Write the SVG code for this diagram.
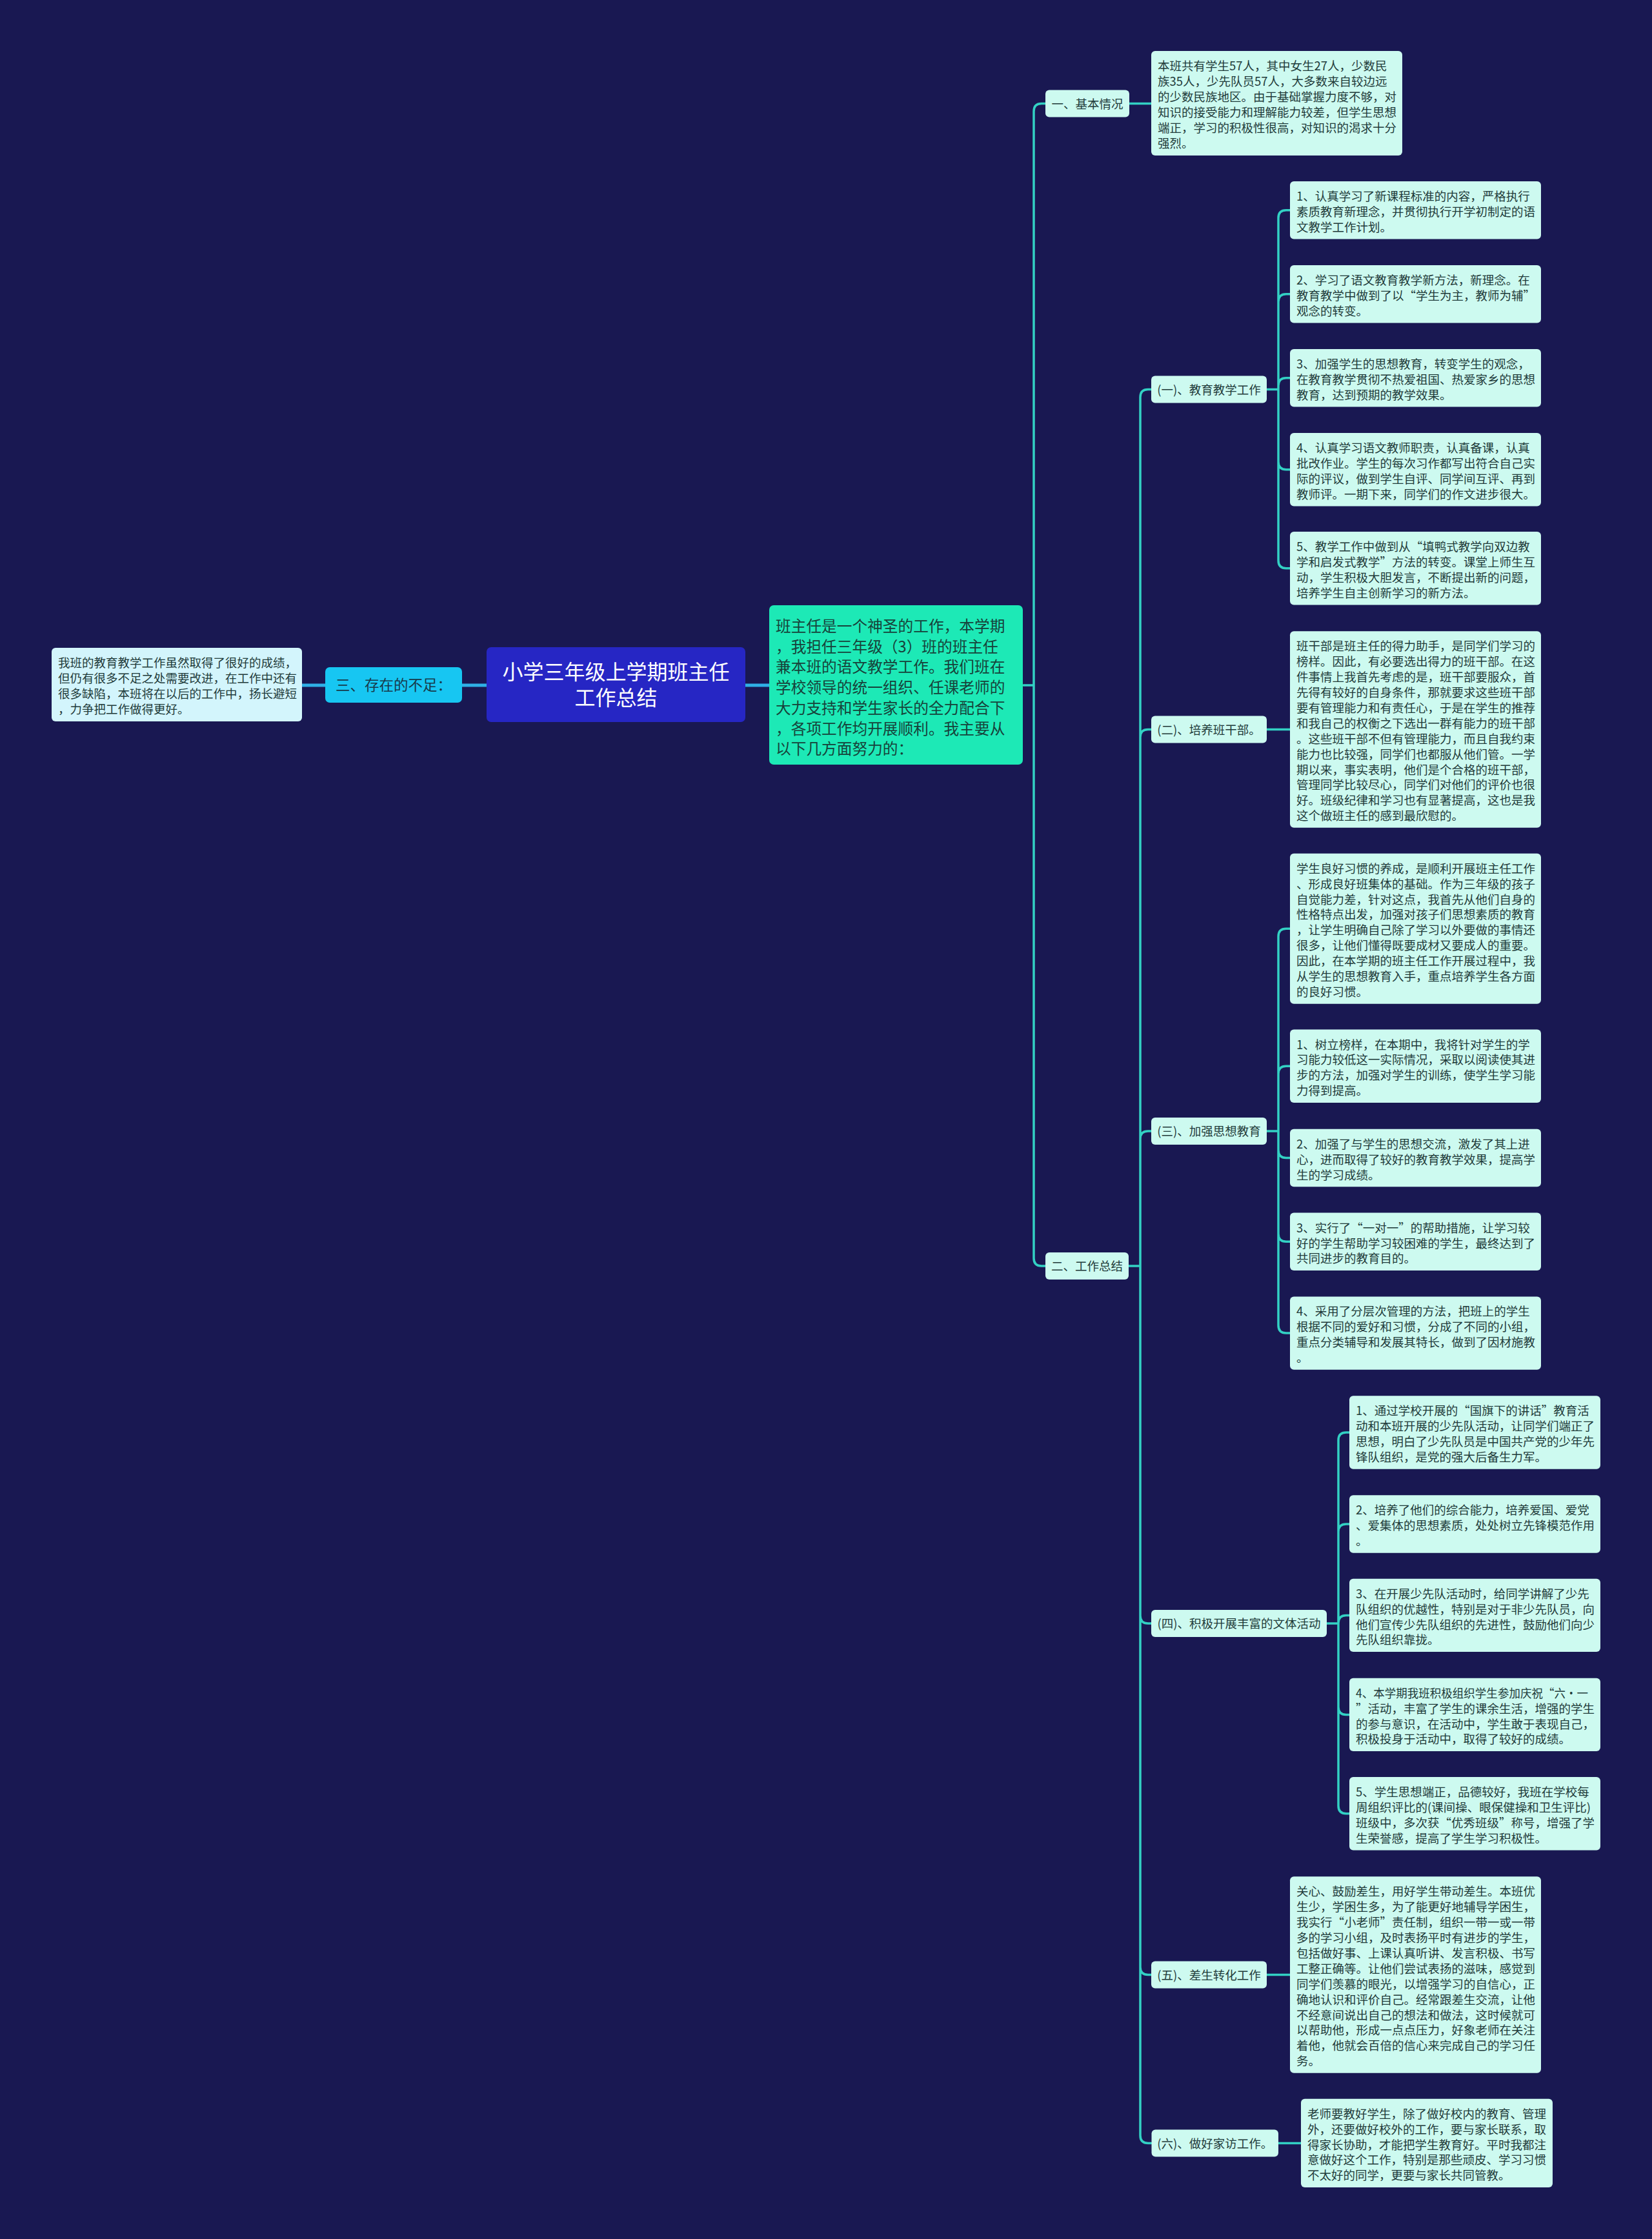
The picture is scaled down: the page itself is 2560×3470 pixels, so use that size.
<svg xmlns="http://www.w3.org/2000/svg" width="2560" height="3470" viewBox="0 0 2560 3470">
<defs>
<style>
.bg{fill:#191852}
.box{fill:#cdfaf0}
.lbox{fill:#d3f5fc}
.t{font-family:"Noto Sans CJK SC","Noto Sans",sans-serif;font-size:18.5px;fill:#1f3b3a}
.lt{font-family:"Noto Sans CJK SC","Noto Sans",sans-serif;font-size:18.5px;fill:#1f3b3a;text-anchor:middle}
.ct{font-family:"Noto Sans CJK SC","Noto Sans",sans-serif;font-size:23.7px;fill:#17423a}
.rt{font-family:"Noto Sans CJK SC","Noto Sans",sans-serif;font-size:32px;fill:#ffffff;text-anchor:middle}
.st{font-family:"Noto Sans CJK SC","Noto Sans",sans-serif;font-size:22.5px;fill:#173a4a;text-anchor:middle}
.ln{fill:none;stroke:#33d1c4;stroke-width:3.5;stroke-linecap:round;stroke-linejoin:round}
.lnl{fill:none;stroke:#2fb0e6;stroke-width:5}
</style>
</defs>
<rect class="bg" x="0" y="0" width="2560" height="3470"/>

<g id="connectors">
<path class="lnl" d="M468,1062 H504 M716,1062 H754 M1155,1062 H1192"/>
<path class="ln" d="M1586,1062 H1602 M1602,1062 V172.5 Q1602,160.5 1614,160.5 H1620 M1602,1062 V1950 Q1602,1962 1614,1962 H1620"/>
<path class="ln" d="M1750,160.5 H1784"/>
<path class="ln" d="M1749,1962 H1767 M1767,1962 V615.5 Q1767,603.5 1779,603.5 H1784 M1767,1962 V1142.5 Q1767,1130.5 1779,1130.5 H1784 M1767,1962 V1765 Q1767,1753 1779,1753 H1784 M1767,1962 V2504 Q1767,2516 1779,2516 H1784 M1767,1962 V3048.5 Q1767,3060.5 1779,3060.5 H1784 M1767,1962 V3309.5 Q1767,3321.5 1779,3321.5 H1784"/>
<path class="ln" d="M1963,603.5 H1981 M1981,603.5 V337.8 Q1981,325.8 1993,325.8 H1999 M1981,603.5 V467.8 Q1981,455.8 1993,455.8 H1999 M1981,603.5 V597.8 Q1981,585.8 1993,585.8 H1999 M1981,603.5 V715.7 Q1981,727.7 1993,727.7 H1999 M1981,603.5 V868.7 Q1981,880.7 1993,880.7 H1999"/>
<path class="ln" d="M1963,1130.5 H1999"/>
<path class="ln" d="M1963,1753 H1981 M1981,1753 V1451.2 Q1981,1439.2 1993,1439.2 H1999 M1981,1753 V1664.2 Q1981,1652.2 1993,1652.2 H1999 M1981,1753 V1782.5 Q1981,1794.5 1993,1794.5 H1999 M1981,1753 V1912.3 Q1981,1924.3 1993,1924.3 H1999 M1981,1753 V2054.1 Q1981,2066.1 1993,2066.1 H1999"/>
<path class="ln" d="M2056,2516 H2074 M2074,2516 V2232 Q2074,2220 2086,2220 H2091 M2074,2516 V2374 Q2074,2362 2086,2362 H2091 M2074,2516 V2515.4 Q2074,2503.4 2086,2503.4 H2091 M2074,2516 V2645.4 Q2074,2657.4 2086,2657.4 H2091 M2074,2516 V2798.7 Q2074,2810.7 2086,2810.7 H2091"/>
<path class="ln" d="M1963,3060.5 H1999"/>
<path class="ln" d="M1981,3321.5 H2016"/>
</g>

<g id="left-text">
<rect class="lbox" x="80" y="1004" width="388" height="114" rx="6"/>
<text class="t" x="90" y="1034"><tspan x="90" dy="0">我班的教育教学工作虽然取得了很好的成绩，</tspan><tspan x="90" dy="23.9">但仍有很多不足之处需要改进，在工作中还有</tspan><tspan x="90" dy="23.9">很多缺陷，本班将在以后的工作中，扬长避短</tspan><tspan x="90" dy="23.9">，力争把工作做得更好。</tspan></text>
</g>

<g id="node-shortcoming">
<rect x="504" y="1034" width="212" height="55" rx="7" fill="#17c6f2"/>
<text class="st" x="610" y="1070">三、存在的不足：</text>
</g>

<g id="root">
<rect x="754" y="1003" width="401" height="116" rx="7" fill="#2626c4"/>
<text class="rt" x="954.5" y="1053">小学三年级上学期班主任</text>
<text class="rt" x="954.5" y="1093">工作总结</text>
</g>

<g id="node-intro">
<rect x="1192" y="938" width="393" height="247" rx="7" fill="#1de9b6"/>
<text class="ct" x="1202" y="979"><tspan x="1202" dy="0">班主任是一个神圣的工作，本学期</tspan><tspan x="1202" dy="31.7">，我担任三年级（3）班的班主任</tspan><tspan x="1202" dy="31.7">兼本班的语文教学工作。我们班在</tspan><tspan x="1202" dy="31.7">学校领导的统一组织、任课老师的</tspan><tspan x="1202" dy="31.7">大力支持和学生家长的全力配合下</tspan><tspan x="1202" dy="31.7">，各项工作均开展顺利。我主要从</tspan><tspan x="1202" dy="31.7">以下几方面努力的：</tspan></text>
</g>

<g id="node-basic">
<rect class="box" x="1620" y="139.5" width="130" height="42" rx="6"/>
<text class="lt" x="1685" y="167.5">一、基本情况</text>
</g>
<g id="node-basic-text">
<rect class="box" x="1784" y="79" width="389" height="162" rx="6"/>
<text class="t" x="1794" y="109"><tspan x="1794" dy="0">本班共有学生57人，其中女生27人，少数民</tspan><tspan x="1794" dy="23.9">族35人，少先队员57人，大多数来自较边远</tspan><tspan x="1794" dy="23.9">的少数民族地区。由于基础掌握力度不够，对</tspan><tspan x="1794" dy="23.9">知识的接受能力和理解能力较差，但学生思想</tspan><tspan x="1794" dy="23.9">端正，学习的积极性很高，对知识的渴求十分</tspan><tspan x="1794" dy="23.9">强烈。</tspan></text>
</g>

<g id="node-summary">
<rect class="box" x="1620" y="1941" width="129" height="42" rx="6"/>
<text class="lt" x="1684.5" y="1969">二、工作总结</text>
</g>

<g id="node-s1">
<rect class="box" x="1784" y="582.5" width="179" height="42" rx="6"/>
<text class="lt" x="1873.5" y="610.5">(一)、教育教学工作</text>
</g>
<g id="node-s1-1">
<rect class="box" x="1999" y="281" width="389" height="89.5" rx="6"/>
<text class="t" x="2009" y="311"><tspan x="2009" dy="0">1、认真学习了新课程标准的内容，严格执行</tspan><tspan x="2009" dy="23.9">素质教育新理念，并贯彻执行开学初制定的语</tspan><tspan x="2009" dy="23.9">文教学工作计划。</tspan></text>
</g>
<g id="node-s1-2">
<rect class="box" x="1999" y="411" width="389" height="89.5" rx="6"/>
<text class="t" x="2009" y="441"><tspan x="2009" dy="0">2、学习了语文教育教学新方法，新理念。在</tspan><tspan x="2009" dy="23.9">教育教学中做到了以“学生为主，教师为辅”</tspan><tspan x="2009" dy="23.9">观念的转变。</tspan></text>
</g>
<g id="node-s1-3">
<rect class="box" x="1999" y="541" width="389" height="89.5" rx="6"/>
<text class="t" x="2009" y="571"><tspan x="2009" dy="0">3、加强学生的思想教育，转变学生的观念，</tspan><tspan x="2009" dy="23.9">在教育教学贯彻不热爱祖国、热爱家乡的思想</tspan><tspan x="2009" dy="23.9">教育，达到预期的教学效果。</tspan></text>
</g>
<g id="node-s1-4">
<rect class="box" x="1999" y="671" width="389" height="113.4" rx="6"/>
<text class="t" x="2009" y="701"><tspan x="2009" dy="0">4、认真学习语文教师职责，认真备课，认真</tspan><tspan x="2009" dy="23.9">批改作业。学生的每次习作都写出符合自己实</tspan><tspan x="2009" dy="23.9">际的评议，做到学生自评、同学间互评、再到</tspan><tspan x="2009" dy="23.9">教师评。一期下来，同学们的作文进步很大。</tspan></text>
</g>
<g id="node-s1-5">
<rect class="box" x="1999" y="824" width="389" height="113.4" rx="6"/>
<text class="t" x="2009" y="854"><tspan x="2009" dy="0">5、教学工作中做到从“填鸭式教学向双边教</tspan><tspan x="2009" dy="23.9">学和启发式教学”方法的转变。课堂上师生互</tspan><tspan x="2009" dy="23.9">动，学生积极大胆发言，不断提出新的问题，</tspan><tspan x="2009" dy="23.9">培养学生自主创新学习的新方法。</tspan></text>
</g>

<g id="node-s2">
<rect class="box" x="1784" y="1109.5" width="179" height="42" rx="6"/>
<text class="lt" x="1873.5" y="1137.5">(二)、培养班干部。</text>
</g>
<g id="node-s2-1">
<rect class="box" x="1999" y="978.3" width="389" height="304.4" rx="6"/>
<text class="t" x="2009" y="1008.3"><tspan x="2009" dy="0">班干部是班主任的得力助手，是同学们学习的</tspan><tspan x="2009" dy="23.9">榜样。因此，有必要选出得力的班干部。在这</tspan><tspan x="2009" dy="23.9">件事情上我首先考虑的是，班干部要服众，首</tspan><tspan x="2009" dy="23.9">先得有较好的自身条件，那就要求这些班干部</tspan><tspan x="2009" dy="23.9">要有管理能力和有责任心，于是在学生的推荐</tspan><tspan x="2009" dy="23.9">和我自己的权衡之下选出一群有能力的班干部</tspan><tspan x="2009" dy="23.9">。这些班干部不但有管理能力，而且自我约束</tspan><tspan x="2009" dy="23.9">能力也比较强，同学们也都服从他们管。一学</tspan><tspan x="2009" dy="23.9">期以来，事实表明，他们是个合格的班干部，</tspan><tspan x="2009" dy="23.9">管理同学比较尽心，同学们对他们的评价也很</tspan><tspan x="2009" dy="23.9">好。班级纪律和学习也有显著提高，这也是我</tspan><tspan x="2009" dy="23.9">这个做班主任的感到最欣慰的。</tspan></text>
</g>

<g id="node-s3">
<rect class="box" x="1784" y="1732" width="179" height="42" rx="6"/>
<text class="lt" x="1873.5" y="1760">(三)、加强思想教育</text>
</g>
<g id="node-s3-0">
<rect class="box" x="1999" y="1322.7" width="389" height="233" rx="6"/>
<text class="t" x="2009" y="1352.7"><tspan x="2009" dy="0">学生良好习惯的养成，是顺利开展班主任工作</tspan><tspan x="2009" dy="23.9">、形成良好班集体的基础。作为三年级的孩子</tspan><tspan x="2009" dy="23.9">自觉能力差，针对这点，我首先从他们自身的</tspan><tspan x="2009" dy="23.9">性格特点出发，加强对孩子们思想素质的教育</tspan><tspan x="2009" dy="23.9">，让学生明确自己除了学习以外要做的事情还</tspan><tspan x="2009" dy="23.9">很多，让他们懂得既要成材又要成人的重要。</tspan><tspan x="2009" dy="23.9">因此，在本学期的班主任工作开展过程中，我</tspan><tspan x="2009" dy="23.9">从学生的思想教育入手，重点培养学生各方面</tspan><tspan x="2009" dy="23.9">的良好习惯。</tspan></text>
</g>
<g id="node-s3-1">
<rect class="box" x="1999" y="1595.5" width="389" height="113.4" rx="6"/>
<text class="t" x="2009" y="1625.5"><tspan x="2009" dy="0">1、树立榜样，在本期中，我将针对学生的学</tspan><tspan x="2009" dy="23.9">习能力较低这一实际情况，采取以阅读使其进</tspan><tspan x="2009" dy="23.9">步的方法，加强对学生的训练，使学生学习能</tspan><tspan x="2009" dy="23.9">力得到提高。</tspan></text>
</g>
<g id="node-s3-2">
<rect class="box" x="1999" y="1749.8" width="389" height="89.5" rx="6"/>
<text class="t" x="2009" y="1779.8"><tspan x="2009" dy="0">2、加强了与学生的思想交流，激发了其上进</tspan><tspan x="2009" dy="23.9">心，进而取得了较好的教育教学效果，提高学</tspan><tspan x="2009" dy="23.9">生的学习成绩。</tspan></text>
</g>
<g id="node-s3-3">
<rect class="box" x="1999" y="1879.6" width="389" height="89.5" rx="6"/>
<text class="t" x="2009" y="1909.6"><tspan x="2009" dy="0">3、实行了“一对一”的帮助措施，让学习较</tspan><tspan x="2009" dy="23.9">好的学生帮助学习较困难的学生，最终达到了</tspan><tspan x="2009" dy="23.9">共同进步的教育目的。</tspan></text>
</g>
<g id="node-s3-4">
<rect class="box" x="1999" y="2009.4" width="389" height="113.4" rx="6"/>
<text class="t" x="2009" y="2039.4"><tspan x="2009" dy="0">4、采用了分层次管理的方法，把班上的学生</tspan><tspan x="2009" dy="23.9">根据不同的爱好和习惯，分成了不同的小组，</tspan><tspan x="2009" dy="23.9">重点分类辅导和发展其特长，做到了因材施教</tspan><tspan x="2009" dy="23.9">。</tspan></text>
</g>

<g id="node-s4">
<rect class="box" x="1784" y="2495" width="272" height="42" rx="6"/>
<text class="lt" x="1920" y="2523">(四)、积极开展丰富的文体活动</text>
</g>
<g id="node-s4-1">
<rect class="box" x="2091" y="2163.3" width="389" height="113.4" rx="6"/>
<text class="t" x="2101" y="2193.3"><tspan x="2101" dy="0">1、通过学校开展的“国旗下的讲话”教育活</tspan><tspan x="2101" dy="23.9">动和本班开展的少先队活动，让同学们端正了</tspan><tspan x="2101" dy="23.9">思想，明白了少先队员是中国共产党的少年先</tspan><tspan x="2101" dy="23.9">锋队组织，是党的强大后备生力军。</tspan></text>
</g>
<g id="node-s4-2">
<rect class="box" x="2091" y="2317.3" width="389" height="89.5" rx="6"/>
<text class="t" x="2101" y="2347.3"><tspan x="2101" dy="0">2、培养了他们的综合能力，培养爱国、爱党</tspan><tspan x="2101" dy="23.9">、爱集体的思想素质，处处树立先锋模范作用</tspan><tspan x="2101" dy="23.9">。</tspan></text>
</g>
<g id="node-s4-3">
<rect class="box" x="2091" y="2446.7" width="389" height="113.4" rx="6"/>
<text class="t" x="2101" y="2476.7"><tspan x="2101" dy="0">3、在开展少先队活动时，给同学讲解了少先</tspan><tspan x="2101" dy="23.9">队组织的优越性，特别是对于非少先队员，向</tspan><tspan x="2101" dy="23.9">他们宣传少先队组织的先进性，鼓励他们向少</tspan><tspan x="2101" dy="23.9">先队组织靠拢。</tspan></text>
</g>
<g id="node-s4-4">
<rect class="box" x="2091" y="2600.7" width="389" height="113.4" rx="6"/>
<text class="t" x="2101" y="2630.7" textLength="360" lengthAdjust="spacingAndGlyphs">4、本学期我班积极组织学生参加庆祝“六·一</text>
<text class="t" x="2101" y="2654.6"><tspan x="2101" dy="0">”活动，丰富了学生的课余生活，增强的学生</tspan><tspan x="2101" dy="23.9">的参与意识，在活动中，学生敢于表现自己，</tspan><tspan x="2101" dy="23.9">积极投身于活动中，取得了较好的成绩。</tspan></text>
</g>
<g id="node-s4-5">
<rect class="box" x="2091" y="2754" width="389" height="113.4" rx="6"/>
<text class="t" x="2101" y="2784"><tspan x="2101" dy="0">5、学生思想端正，品德较好，我班在学校每</tspan><tspan x="2101" dy="23.9">周组织评比的(课间操、眼保健操和卫生评比)</tspan><tspan x="2101" dy="23.9">班级中，多次获“优秀班级”称号，增强了学</tspan><tspan x="2101" dy="23.9">生荣誉感，提高了学生学习积极性。</tspan></text>
</g>

<g id="node-s5">
<rect class="box" x="1784" y="3039.5" width="179" height="42" rx="6"/>
<text class="lt" x="1873.5" y="3067.5">(五)、差生转化工作</text>
</g>
<g id="node-s5-1">
<rect class="box" x="1999" y="2908.3" width="389" height="304.4" rx="6"/>
<text class="t" x="2009" y="2938.3"><tspan x="2009" dy="0">关心、鼓励差生，用好学生带动差生。本班优</tspan><tspan x="2009" dy="23.9">生少，学困生多，为了能更好地辅导学困生，</tspan><tspan x="2009" dy="23.9">我实行“小老师”责任制，组织一带一或一带</tspan><tspan x="2009" dy="23.9">多的学习小组，及时表扬平时有进步的学生，</tspan><tspan x="2009" dy="23.9">包括做好事、上课认真听讲、发言积极、书写</tspan><tspan x="2009" dy="23.9">工整正确等。让他们尝试表扬的滋味，感觉到</tspan><tspan x="2009" dy="23.9">同学们羡慕的眼光，以增强学习的自信心，正</tspan><tspan x="2009" dy="23.9">确地认识和评价自己。经常跟差生交流，让他</tspan><tspan x="2009" dy="23.9">不经意间说出自己的想法和做法，这时候就可</tspan><tspan x="2009" dy="23.9">以帮助他，形成一点点压力，好象老师在关注</tspan><tspan x="2009" dy="23.9">着他，他就会百倍的信心来完成自己的学习任</tspan><tspan x="2009" dy="23.9">务。</tspan></text>
</g>

<g id="node-s6">
<rect class="box" x="1784.5" y="3300.5" width="196.5" height="42" rx="6"/>
<text class="lt" x="1882.7" y="3328.5">(六)、做好家访工作。</text>
</g>
<g id="node-s6-1">
<rect class="box" x="2016" y="3252.7" width="390" height="137.3" rx="6"/>
<text class="t" x="2026" y="3282.7"><tspan x="2026" dy="0">老师要教好学生，除了做好校内的教育、管理</tspan><tspan x="2026" dy="23.9">外，还要做好校外的工作，要与家长联系，取</tspan><tspan x="2026" dy="23.9">得家长协助，才能把学生教育好。平时我都注</tspan><tspan x="2026" dy="23.9">意做好这个工作，特别是那些顽皮、学习习惯</tspan><tspan x="2026" dy="23.9">不太好的同学，更要与家长共同管教。</tspan></text>
</g>
</svg>
